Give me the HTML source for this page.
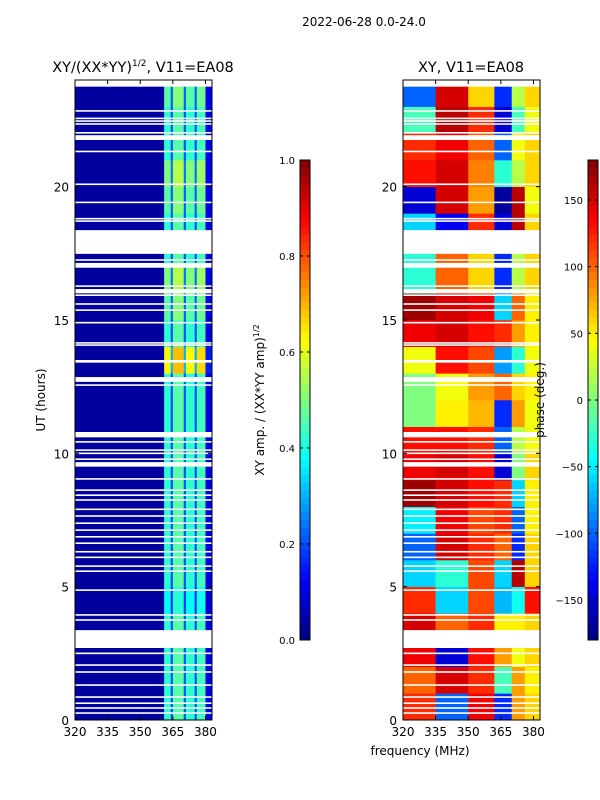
<!DOCTYPE html>
<html><head><meta charset="utf-8"><style>
body{margin:0;background:#fff}
svg{display:block;font-family:"DejaVu Sans","Liberation Sans",sans-serif}
</style></head><body>
<svg id="fig" width="600" height="800" viewBox="0 0 600 800">
<text x="364" y="26" font-size="12" text-anchor="middle">2022-06-28 0.0-24.0</text>
<text x="143" y="72" font-size="14.5" text-anchor="middle">XY/(XX*YY)<tspan font-size="9" dy="-6">1/2</tspan><tspan dy="6">, V11=EA08</tspan></text>
<text x="471" y="72" font-size="14.5" text-anchor="middle">XY, V11=EA08</text>
<g id="left"></g>
<g id="right"></g>
<g id="axes"></g>
<text x="45" y="400" font-size="12" text-anchor="middle" transform="rotate(-90 45 400)">UT (hours)</text>
<text x="420" y="755" font-size="12" text-anchor="middle">frequency (MHz)</text>
<text x="264" y="400" font-size="12" text-anchor="middle" transform="rotate(-90 264 400)">XY amp. / (XX*YY amp)<tspan font-size="8" dy="-5">1/2</tspan></text>
<text x="544" y="400" font-size="12" text-anchor="middle" transform="rotate(-90 544 400)">phase (deg.)</text>
</svg>
<script>
// ---- data ----
const freqTicks=[320,335,350,365,380];
const timeTicks=[0,5,10,15,20];
const ampTicks=[0.0,0.2,0.4,0.6,0.8,1.0];
const phaseTicks=[-150,-100,-50,0,50,100,150];
const ampFreqEdges=[320,361,364,365,370,371,375,376,380,383];
const ampColVals=[0.03,0.42,0.2,0.46,0.2,0.42,0.2,0.44,0.1];
const ampHourScale=[1,1,1,1,0.9,1,1,1,1,1,1,1,1,1.5,1,1.1,1.2,1,1,1.1,1.2,1,1,1.1];
const phaseFreqEdges=[320,335,350,362,370,376,383];
const phaseGrid=[
[120,-100,140,-120,80,60],[100,150,120,-20,80,50],[140,-150,130,80,40,60],[150,100,120,50,50,60],
[120,-60,110,-70,-40,130],[-60,-30,110,-60,160,60],[-100,150,120,100,-120,60],[-50,140,110,120,-100,50],
[170,150,130,120,-60,50],[140,150,130,-150,0,60],[130,130,120,-100,20,40],[0,50,70,-120,80,40],
[0,40,80,100,60,50],[40,130,110,-80,-30,40],[140,150,130,120,80,50],[170,150,140,-60,100,50],
[-30,100,60,-120,20,60],[-30,100,60,-120,20,60],[-60,-140,120,-150,160,60],[-150,150,80,-170,160,40],
[130,150,90,-30,20,60],[120,140,100,-100,40,60],[-20,160,120,-150,-20,40],[-100,150,60,-120,20,60]];
const gaps=[[23.75,24.2],[22.81,22.87],[22.53,22.59],[22.43,22.49],[22.32,22.38],[21.99,22.05],[21.75,21.93],[21.29,21.35],
[20.06,20.12],[19.38,19.44],[18.77,18.83],[18.68,18.74],[17.48,18.37],[17.22,17.28],[16.96,17.14],[16.24,16.3],[16.0,16.16],
[15.9,15.96],[15.57,15.63],[15.34,15.4],[14.87,14.93],[14.11,14.17],[14.03,14.09],[13.4,13.5],[12.68,12.86],[12.53,12.59],
[10.6,10.8],[10.4,10.46],[10.09,10.15],[9.97,10.03],[9.75,9.81],[9.5,9.67],[9.01,9.07],[8.59,8.65],[8.4,8.46],[8.22,8.28],
[7.87,7.93],[7.62,7.68],[7.35,7.41],[7.09,7.15],[6.84,6.9],[6.6,6.66],[6.28,6.34],[6.07,6.13],[5.74,5.8],[5.55,5.61],
[4.84,4.9],[3.91,3.97],[3.72,3.78],[2.7,3.37],[2.47,2.53],[2.03,2.09],[1.77,1.83],[1.28,1.34],[0.83,0.89],[0.6,0.66],[0.42,0.48],[0.23,0.29]];
// ---- layout ----
const NS='http://www.w3.org/2000/svg';
const T=80,B=720,H=24;
const yS=h=>B-(B-T)*h/H;
const L={x0:75,x1:212},R={x0:403,x1:540};
const xS=(p,f)=>p.x0+(p.x1-p.x0)*(f-320)/(383-320);
function jet(t){t=Math.max(0,Math.min(1,t));
 const r=Math.max(0,Math.min(1,1.5-Math.abs(4*t-3))),g=Math.max(0,Math.min(1,1.5-Math.abs(4*t-2))),b=Math.max(0,Math.min(1,1.5-Math.abs(4*t-1)));
 return `rgb(${Math.round(r*255)},${Math.round(g*255)},${Math.round(b*255)})`;}
function mk(tag,attrs,parent){const e=document.createElementNS(NS,tag);for(const k in attrs)e.setAttribute(k,attrs[k]);parent.appendChild(e);return e;}
const gl=document.getElementById('left'),gr=document.getElementById('right'),ga=document.getElementById('axes');
for(let h=0;h<H;h++){
 for(let c=0;c<ampColVals.length;c++){
  const x0=xS(L,ampFreqEdges[c]),x1=xS(L,ampFreqEdges[c+1]);
  const v=c===0?ampColVals[c]:ampColVals[c]*ampHourScale[h];
  const r=mk('rect',{x:x0,y:yS(h+1),width:x1-x0+0.3,height:yS(h)-yS(h+1)+0.3,fill:jet(v)},gl);
  
  
 }
 for(let c=0;c<phaseGrid[h].length;c++){
  const x0=xS(R,phaseFreqEdges[c]),x1=xS(R,phaseFreqEdges[c+1]);
  const r=mk('rect',{x:x0,y:yS(h+1),width:x1-x0+0.3,height:yS(h)-yS(h+1)+0.3,fill:jet((phaseGrid[h][c]+180)/360)},gr);
  
  
 }
}
for(const g of gaps){for(const p of [L,R]){
 const r=mk('rect',{x:p.x0,y:yS(g[1]),width:p.x1-p.x0,height:yS(g[0])-yS(g[1]),fill:'#fff'},ga);
 
 
}}
for(const p of [L,R]){
 const f=mk('rect',{x:p.x0,y:T,width:p.x1-p.x0,height:B-T,fill:'none',stroke:'#000','stroke-width':1},ga);
 
 
 for(const t of freqTicks){const x=xS(p,t);
  mk('line',{x1:x,x2:x,y1:B,y2:B-4,stroke:'#000'},ga);mk('line',{x1:x,x2:x,y1:T,y2:T+4,stroke:'#000'},ga);
  const tx=mk('text',{x:x,y:B+16,'font-size':12,'text-anchor':'middle'},ga);tx.textContent=t;
  
  }
 for(const t of timeTicks){const y=yS(t);
  mk('line',{x1:p.x0,x2:p.x0+4,y1:y,y2:y,stroke:'#000'},ga);mk('line',{x1:p.x1,x2:p.x1-4,y1:y,y2:y,stroke:'#000'},ga);
  const tx=mk('text',{x:p.x0-6,y:y+5,'font-size':12,'text-anchor':'end'},ga);tx.textContent=t;
  
  }
}
function cbar(x,lo,hi,ticks,name){
 const N=64;
 for(let i=0;i<N;i++){
  const r=mk('rect',{x:x,y:160+480*i/N,width:10,height:480/N+0.5,fill:jet(1-(i+0.5)/N)},ga);
  
  }
 const f=mk('rect',{x:x,y:160,width:10,height:480,fill:'none',stroke:'#000'},ga);
 
 
 for(const t of ticks){const y=640-480*(t-lo)/(hi-lo);
  mk('line',{x1:x,x2:x+3,y1:y,y2:y,stroke:'#000'},ga);mk('line',{x1:x+10,x2:x+7,y1:y,y2:y,stroke:'#000'},ga);
  const tx=mk('text',{x:x-5,y:y+4,'font-size':10,'text-anchor':'end'},ga);
  tx.textContent=(lo===0?t.toFixed(1):String(t).replace('-','\u2212'));
  
  }
}
cbar(300,0,1,ampTicks,'amp-colorbar');
cbar(588,-180,180,phaseTicks,'phase-colorbar');
</script>
</body></html>
